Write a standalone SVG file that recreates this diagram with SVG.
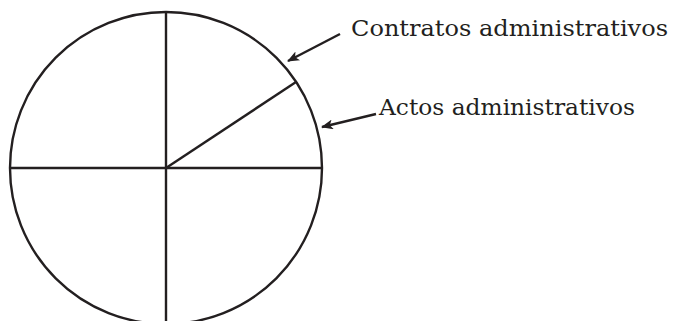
<svg xmlns="http://www.w3.org/2000/svg" width="673" height="321" viewBox="0 0 673 321">
<style>
.ln{fill:none;stroke:#231f20;stroke-width:2.4}
.lbl{font-family:"DejaVu Serif","Liberation Serif",serif;font-size:23px;fill:#231f20}
</style>
<defs>
<marker id="ah" markerWidth="12" markerHeight="10" refX="11" refY="5" orient="auto" markerUnits="userSpaceOnUse">
<path d="M0,0 L12,5 L0,10 L3,5 Z" fill="#231f20"/>
</marker>
</defs>
<rect width="673" height="321" fill="#fff"/>
<g id="circle">
<circle class="ln" cx="166" cy="168" r="156"/>
<line class="ln" x1="166" y1="12" x2="166" y2="321"/>
<line class="ln" x1="10" y1="168" x2="322" y2="168"/>
<line class="ln" x1="166" y1="168" x2="296" y2="82"/>
</g>
<g id="connectors">
<line class="ln" x1="340" y1="34" x2="288" y2="61" marker-end="url(#ah)"/>
<line class="ln" x1="376" y1="114" x2="322" y2="127" marker-end="url(#ah)"/>
</g>
<g id="label-contratos">
<text class="lbl" x="351" y="36" textLength="317" lengthAdjust="spacingAndGlyphs">Contratos administrativos</text>
</g>
<g id="label-actos">
<text class="lbl" x="379" y="115" textLength="256" lengthAdjust="spacingAndGlyphs">Actos administrativos</text>
</g>
</svg>
